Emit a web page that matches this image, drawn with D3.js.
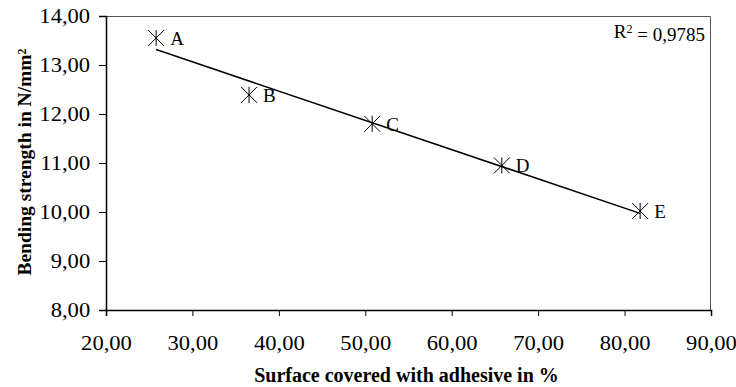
<!DOCTYPE html>
<html>
<head>
<meta charset="utf-8">
<script src="https://cdn.jsdelivr.net/npm/d3@7"></script>
<style>
  html, body { margin: 0; padding: 0; background: #fff; }
  svg { display: block; }
  text { font-family: "Liberation Serif", "Times New Roman", serif; fill: #000; }
</style>
</head>
<body>
<div id="chart"></div>
<script>
// data
var labels = ["A", "B", "C", "D", "E"];
var coverage = [25.8, 36.55, 50.8, 65.8, 81.8];   // surface covered with adhesive, %
var strength = [13.55, 12.39, 11.8, 10.95, 10.02]; // bending strength, N/mm2
var xTicks = [20, 30, 40, 50, 60, 70, 80, 90];
var yTicks = [8, 9, 10, 11, 12, 13, 14];
var r2Text = "0,9785";

var W = 736, H = 387;
var margin = {top: 16, right: 25, bottom: 77, left: 106};
var width = W - margin.left - margin.right,
    height = H - margin.top - margin.bottom;

// the source picture is a bit wider than tall, text too
var stretch = "scale(1.13,1)";

var svg = d3.select("#chart").append("svg")
    .attr("width", W)
    .attr("height", H);

var g = svg.append("g")
    .attr("transform", "translate(" + margin.left + "," + margin.top + ")");

var x = d3.scaleLinear().domain([20, 90]).range([0, width]);
var y = d3.scaleLinear().domain([8, 14]).range([height, 0]);

var fmt = function (d) { return d3.format(".2f")(d).replace(".", ","); };

// plot frame (top + right)
g.append("path")
    .attr("d", "M0,0.5H" + (width - 0.5) + "V" + height)
    .attr("fill", "none")
    .attr("stroke", "#555")
    .attr("stroke-width", 1);

var xAxis = g.append("g")
    .attr("transform", "translate(0," + height + ")")
    .call(d3.axisBottom(x).tickValues(xTicks).tickFormat(fmt).tickSize(6).tickPadding(8));

var yAxis = g.append("g")
    .call(d3.axisLeft(y).tickValues(yTicks).tickFormat(fmt).tickSize(7).tickPadding(7));

[xAxis, yAxis].forEach(function (a) {
    a.select(".domain").attr("stroke", "#000").attr("stroke-width", 1.5);
    a.selectAll(".tick line").attr("stroke", "#000");
    a.selectAll(".tick text")
        .style("font-family", "'Liberation Serif', serif")
        .style("font-size", "20px")
        .attr("fill", "#000")
        .attr("transform", stretch);
});
xAxis.selectAll(".tick text").attr("dy", "1.3em");
yAxis.selectAll(".tick text").attr("dy", "0.33em");

// axis titles
svg.append("text")
    .attr("x", margin.left + width / 2 - 2)
    .attr("y", 382)
    .attr("text-anchor", "middle")
    .style("font-size", "20px")
    .style("font-weight", "bold")
    .text("Surface covered with adhesive in %");

var yt = svg.append("text")
    .attr("transform", "translate(31,162) rotate(-90)")
    .attr("text-anchor", "middle")
    .style("font-size", "19.5px")
    .style("font-weight", "bold");
yt.append("tspan").text("Bending strength in N/mm");
yt.append("tspan").attr("dy", "-0.45em").style("font-size", "12px").text("2");

// linear trend line over the data range
var mx = d3.mean(coverage), my = d3.mean(strength);
var sxy = d3.sum(coverage, function (v, i) { return (v - mx) * (strength[i] - my); });
var sxx = d3.sum(coverage, function (v) { return (v - mx) * (v - mx); });
var slope = sxy / sxx, icpt = my - slope * mx;
var xr = d3.extent(coverage);

g.append("line")
    .attr("x1", x(xr[0])).attr("y1", y(icpt + slope * xr[0]))
    .attr("x2", x(xr[1])).attr("y2", y(icpt + slope * xr[1]))
    .attr("stroke", "#000")
    .attr("stroke-width", 1.5);

// star markers
var pts = labels.map(function (l, i) { return {label: l, x: coverage[i], y: strength[i]}; });
var s = 8;
var mk = g.selectAll(".pt").data(pts).enter().append("g")
    .attr("class", "pt")
    .attr("transform", function (d) { return "translate(" + x(d.x) + "," + y(d.y) + ")"; });

mk.append("path")
    .attr("d", "M" + (-s) + "," + (-s) + "L" + s + "," + s +
               "M" + s + "," + (-s) + "L" + (-s) + "," + s +
               "M0," + (-s) + "V" + s)
    .attr("stroke", "#000")
    .attr("stroke-width", 1)
    .attr("fill", "none");

mk.append("text")
    .attr("x", 14)
    .attr("y", 7)
    .style("font-size", "19px")
    .text(function (d) { return d.label; });

// R squared
var rt = svg.append("text")
    .attr("x", 705)
    .attr("y", 38)
    .attr("text-anchor", "end")
    .style("font-size", "19px");
rt.append("tspan").text("R");
rt.append("tspan").attr("dy", "-0.45em").style("font-size", "12px").text("2");
rt.append("tspan").attr("dy", "0.45em").text(" = " + r2Text);
</script>
</body>
</html>
